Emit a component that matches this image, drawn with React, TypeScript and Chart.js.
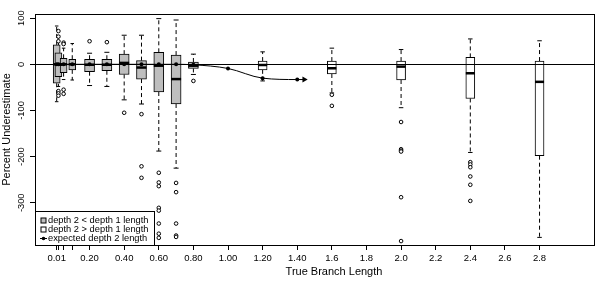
import React, { useEffect, useRef } from "react";
import { Chart, registerables } from "chart.js";

Chart.register(...registerables);

// ---------- data ----------
// boxes where depth 2 < depth 1 length (gray)
const grayX = [0.01, 0.02, 0.05, 0.1, 0.2, 0.3, 0.4, 0.5, 0.6, 0.7, 0.8];
const grayLow = [-81, -48, -33, -34, -46, -48, -77, -86, -188, -225, -22];
const grayQ1 = [-41, -27, -18, -12, -16, -14, -22, -32, -60, -86, -9];
const grayMed = [0, -1, 0, 0, -1, -1, 3, -7, -3, -32, -3];
const grayQ3 = [42, 25, 13, 11, 11, 11, 22, 8, 26, 20, 5];
const grayHigh = [83, 62, 35, 45, 24, 26, 63, 63, 99, 96, 22];
const grayOut: number[][] = [
  [],
  [72, 60, 50, -58, -63, -68],
  [47, 44, -55, -64],
  [],
  [50],
  [48],
  [-105],
  [-108, -221, -246],
  [-235, -256, -264, -311, -317, -345, -367, -376],
  [-257, -277, -345, -371, -374],
  [-36],
];

// boxes where depth 2 > depth 1 length (white)
const whiteX = [1.2, 1.6, 2.0, 2.4, 2.8];
const whiteLow = [-36, -62, -94, -191, -375];
const whiteQ1 = [-12, -21, -34, -74, -198];
const whiteMed = [-1.5, -8.6, -5, -19.4, -38];
const whiteQ3 = [7, 7, 7, 15, 7];
const whiteHigh = [27, 35, 32, 55, 51];
const whiteOut: number[][] = [
  [],
  [-66, -90],
  [-125, -184, -187, -189, -288, -383],
  [-212, -217, -223, -243, -261, -296],
  [],
];

// expected depth 2 length (last point is the arrow head)
const expectedX = [0.01, 0.02, 0.05, 0.1, 0.2, 0.3, 0.4, 0.5, 0.6, 0.7, 0.8, 1.0, 1.2, 1.4, 1.44];
const expectedY = [0, 0, 0, 0, 0, 0, 0, 0, 0, 0, -1, -9, -30, -33, -33];

const xTickValues = [0.01, 0.02, 0.05, 0.1, 0.2, 0.4, 0.6, 0.8, 1.0, 1.2, 1.4, 1.6, 1.8, 2.0, 2.2, 2.4, 2.6, 2.8];
const xTickLabels = ["0.01", "", "", "", "0.20", "0.40", "0.60", "0.80", "1.00", "1.20", "1.40", "1.6", "1.8", "2.0", "2.2", "2.4", "2.6", "2.8"];
const yTickValues = [-300, -200, -100, 0, 100];

const xTitle = "True Branch Length";
const yTitle = "Percent Underestimate";
const legendLabels = ["depth 2 < depth 1 length", "depth 2 > depth 1 length", "expected depth 2 length"];

// ---------- styling ----------
const FONT = "'Liberation Sans', Arial, Helvetica, sans-serif";
const GRAY = "#bebebe";
const WHITE = "#ffffff";
const BLACK = "#000000";

type Box = { x: number; lo: number; q1: number; med: number; q3: number; hi: number; out: number[] };

function buildBoxes(xs: number[], lo: number[], q1: number[], med: number[], q3: number[], hi: number[], out: number[][]): Box[] {
  return xs.map((x, i) => ({ x, lo: lo[i], q1: q1[i], med: med[i], q3: q3[i], hi: hi[i], out: out[i] }));
}

const grayBoxes = buildBoxes(grayX, grayLow, grayQ1, grayMed, grayQ3, grayHigh, grayOut);
const whiteBoxes = buildBoxes(whiteX, whiteLow, whiteQ1, whiteMed, whiteQ3, whiteHigh, whiteOut);

const boxGroups = [
  { boxes: grayBoxes.filter((b) => b.x < 0.15), fill: GRAY, width: 7 },
  { boxes: grayBoxes.filter((b) => b.x >= 0.15), fill: GRAY, width: 10 },
  { boxes: whiteBoxes, fill: WHITE, width: 9 },
];

const outlierPoints = [...grayBoxes, ...whiteBoxes].flatMap((b) => b.out.map((y) => ({ x: b.x, y })));

const boxPlugin = {
  id: "boxplotExtras",
  beforeDatasetsDraw(chart: any) {
    const { ctx, scales } = chart;
    const xs = scales.x;
    const ys = scales.y;
    ctx.save();
    ctx.strokeStyle = BLACK;
    ctx.lineWidth = 1;
    boxGroups.forEach((g) => {
      g.boxes.forEach((b) => {
        const px = xs.getPixelForValue(b.x);
        const cap = g.width / 4;
        ctx.setLineDash([4, 3]);
        ctx.beginPath();
        ctx.moveTo(px, ys.getPixelForValue(b.q3));
        ctx.lineTo(px, ys.getPixelForValue(b.hi));
        ctx.moveTo(px, ys.getPixelForValue(b.q1));
        ctx.lineTo(px, ys.getPixelForValue(b.lo));
        ctx.stroke();
        ctx.setLineDash([]);
        ctx.beginPath();
        ctx.moveTo(px - cap, ys.getPixelForValue(b.hi));
        ctx.lineTo(px + cap, ys.getPixelForValue(b.hi));
        ctx.moveTo(px - cap, ys.getPixelForValue(b.lo));
        ctx.lineTo(px + cap, ys.getPixelForValue(b.lo));
        ctx.stroke();
      });
    });
    ctx.restore();
  },
  afterDatasetDraw(chart: any, args: any) {
    if (args.index !== 2) return;
    const { ctx, scales, chartArea } = chart;
    const xs = scales.x;
    const ys = scales.y;
    ctx.save();
    ctx.strokeStyle = BLACK;
    ctx.lineWidth = 2.5;
    boxGroups.forEach((g) => {
      g.boxes.forEach((b) => {
        const px = xs.getPixelForValue(b.x);
        const py = ys.getPixelForValue(b.med);
        ctx.beginPath();
        ctx.moveTo(px - g.width / 2, py);
        ctx.lineTo(px + g.width / 2, py);
        ctx.stroke();
      });
    });
    // horizontal reference line at 0
    const y0 = Math.round(ys.getPixelForValue(0)) + 0.5;
    ctx.lineWidth = 1;
    ctx.beginPath();
    ctx.moveTo(chartArea.left, y0);
    ctx.lineTo(chartArea.right, y0);
    ctx.stroke();
    ctx.restore();
  },
  afterDraw(chart: any) {
    const { ctx, chartArea } = chart;
    ctx.save();
    // plot frame
    ctx.strokeStyle = BLACK;
    ctx.lineWidth = 1;
    const l = Math.round(chartArea.left) + 0.5;
    const t = Math.round(chartArea.top) + 0.5;
    const r = Math.round(chartArea.right) - 0.5;
    const btm = Math.round(chartArea.bottom) + 0.5;
    ctx.strokeRect(l, t, r - l, btm - t);

    // legend
    const legTop = Math.round(chartArea.bottom) - 34 + 0.5;
    const legRight = l + 119;
    ctx.fillStyle = WHITE;
    ctx.fillRect(l, legTop, legRight - l, btm - legTop);
    ctx.strokeRect(l, legTop, legRight - l, btm - legTop);
    ctx.font = `9.3px ${FONT}`;
    ctx.textAlign = "left";
    ctx.textBaseline = "middle";
    legendLabels.forEach((label, i) => {
      const cy = legTop + 9 + i * 9;
      if (i < 2) {
        ctx.fillStyle = i === 0 ? GRAY : WHITE;
        ctx.fillRect(l + 5.5, cy - 2.5, 5, 5);
        ctx.strokeRect(l + 5.5, cy - 2.5, 5, 5);
      } else {
        ctx.beginPath();
        ctx.moveTo(l + 4.5, cy);
        ctx.lineTo(l + 11.5, cy);
        ctx.stroke();
        ctx.fillStyle = BLACK;
        ctx.beginPath();
        ctx.arc(l + 8, cy, 1.8, 0, Math.PI * 2);
        ctx.fill();
      }
      ctx.fillStyle = BLACK;
      ctx.fillText(label, l + 12.5, cy);
    });

    // x axis title
    ctx.font = `11px ${FONT}`;
    ctx.textAlign = "center";
    ctx.textBaseline = "middle";
    ctx.fillStyle = BLACK;
    ctx.fillText(xTitle, 334, 272);
    ctx.restore();
  },
};

const tickGrid = {
  display: true,
  drawOnChartArea: false,
  drawTicks: true,
  tickLength: 5,
  tickColor: BLACK,
  tickWidth: 1,
  offset: false,
};

export default function App() {
  const ref = useRef<HTMLCanvasElement>(null);

  useEffect(() => {
    document.body.style.margin = "0";
    Chart.defaults.font.family = FONT;
    Chart.defaults.color = BLACK;
    const canvas = ref.current;
    if (!canvas) return;
    const last = expectedX.length - 1;
    const chart = new Chart(canvas, {
      type: "bar",
      data: {
        datasets: [
          {
            type: "line",
            data: expectedX.map((x, i) => ({ x, y: expectedY[i] })),
            borderColor: BLACK,
            borderWidth: 1,
            cubicInterpolationMode: "monotone",
            pointRadius: expectedX.map((_, i) => (i === last ? 3.5 : 2)),
            pointStyle: expectedX.map((_, i) => (i === last ? "triangle" : "circle")),
            pointRotation: expectedX.map((_, i) => (i === last ? 90 : 0)),
            pointBackgroundColor: BLACK,
            pointBorderColor: BLACK,
            pointBorderWidth: 0,
            fill: false,
          } as any,
          {
            type: "line",
            showLine: false,
            data: outlierPoints,
            pointRadius: 1.8,
            pointStyle: "circle",
            pointBackgroundColor: WHITE,
            pointBorderColor: BLACK,
            pointBorderWidth: 1,
          } as any,
          ...boxGroups.map(
            (g) =>
              ({
                type: "bar",
                data: g.boxes.map((b) => ({ x: b.x, y: [b.q1, b.q3] })),
                backgroundColor: g.fill,
                borderColor: BLACK,
                borderWidth: 1,
                borderSkipped: false,
                barThickness: g.width,
                grouped: false,
              } as any)
          ),
        ],
      },
      options: {
        animation: false,
        responsive: false,
        devicePixelRatio: 1,
        events: [],
        layout: { padding: { left: 0, top: 14, right: 1, bottom: 0 } },
        plugins: { legend: { display: false }, tooltip: { enabled: false } },
        scales: {
          x: {
            type: "linear",
            min: -0.1153,
            max: 3.1205,
            offset: false,
            grid: tickGrid,
            border: { display: false },
            afterBuildTicks: (s: any) => {
              s.ticks = xTickValues.map((v) => ({ value: v }));
            },
            afterFit: (s: any) => {
              s.height = 55;
            },
            ticks: {
              autoSkip: false,
              minRotation: 0,
              maxRotation: 0,
              padding: 3,
              color: BLACK,
              font: { size: 9.5, family: FONT },
              callback: (_v: any, i: number) => xTickLabels[i],
            },
          },
          y: {
            type: "linear",
            min: -391.5,
            max: 109,
            grid: tickGrid,
            border: { display: false },
            afterBuildTicks: (s: any) => {
              s.ticks = yTickValues.map((v) => ({ value: v }));
            },
            afterFit: (s: any) => {
              s.width = 35;
            },
            ticks: {
              minRotation: 90,
              maxRotation: 90,
              crossAlign: "center",
              padding: -1,
              color: BLACK,
              font: { size: 9.3, family: FONT },
              callback: (v: any) => String(v),
            },
            title: {
              display: true,
              text: yTitle,
              color: BLACK,
              font: { size: 11, family: FONT },
              padding: { top: 0.5, bottom: 0 },
            },
          },
        } as any,
      },
      plugins: [boxPlugin],
    } as any);
    return () => chart.destroy();
  }, []);

  return (
    <div style={{ width: 600, height: 300 }}>
      <canvas ref={ref} width={600} height={300} style={{ display: "block" }} />
    </div>
  );
}
